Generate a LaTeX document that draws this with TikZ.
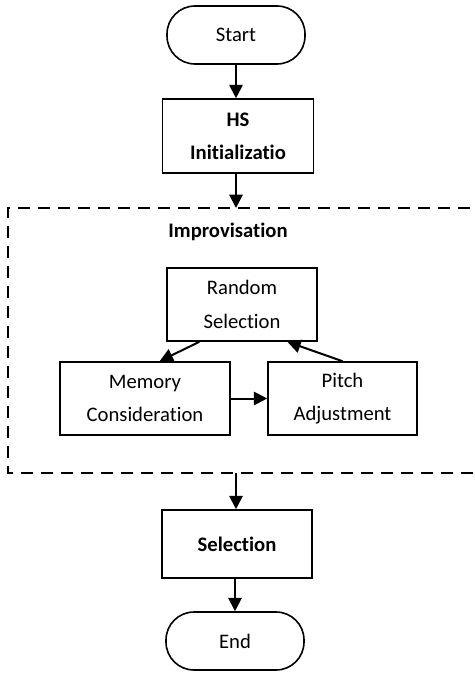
\documentclass[tikz,border=0pt]{standalone}
\usepackage{fontspec}
\setmainfont{Carlito}[Ligatures=NoCommon]
\usetikzlibrary{arrows.meta}
\begin{document}
\begin{tikzpicture}[x=0.75pt,y=-0.75pt,
  base/.style={draw,line width=1.2pt,align=center,inner sep=2pt,
    font=\fontsize{15.5}{25}\selectfont},
  term/.style={base,rounded corners=21pt,minimum width=103.5pt,minimum height=43.5pt},
  proc/.style={base,minimum height=54.75pt},
  arr/.style={line width=1.5pt,-{Triangle[length=10pt,width=10pt]}},
  dashbox/.style={draw,line width=1pt,dash pattern=on 9pt off 6pt}]
\clip (0,0) rectangle (474,673);
\useasboundingbox (0,0) rectangle (474,673);
\fill[white] (0,0) rectangle (474,673);
\node[term] (start) at (236,35) {Start};
\node[proc,minimum width=113.25pt,minimum height=55.5pt,font=\bfseries\fontsize{15.5}{25}\selectfont] (init) at (238,136) {HS\\Initializatio};
\draw[dashbox] (490,208) -- (8,208) -- (8,473) -- (490,473);
\coordinate (dtop) at (236,208);
\coordinate (dbot) at (236,473);
\node[font=\bfseries\fontsize{15.5}{18}\selectfont] (impro) at (228,232) {Improvisation};
\node[proc,minimum width=112.5pt] (rand) at (242,304.5) {Random\\Selection};
\node[proc,minimum width=127.5pt] (mem) at (145,398.5) {Memory\\Consideration};
\node[proc,minimum width=111.75pt] (pitch) at (342.5,398.5) {Pitch\\Adjustment};
\node[proc,minimum width=112.5pt,minimum height=51pt,font=\bfseries\fontsize{15.5}{25}\selectfont] (sel) at (237,544) {Selection};
\node[term] (end) at (235,641) {End};
\draw[arr] (start) -- (start|-init.north);
\draw[arr] (init.south-|start) -- (dtop);
\draw[arr] (dbot) -- (dbot|-sel.north);
\draw[arr] (sel.south-|end) -- (end);
\draw[arr] ([xshift=-32pt]rand.south) -- ([xshift=11pt]mem.north);
\draw[arr] ([xshift=0pt]pitch.north) -- ([xshift=34pt]rand.south);
\draw[arr] (mem.east) -- (pitch.west);
\end{tikzpicture}
\end{document}
